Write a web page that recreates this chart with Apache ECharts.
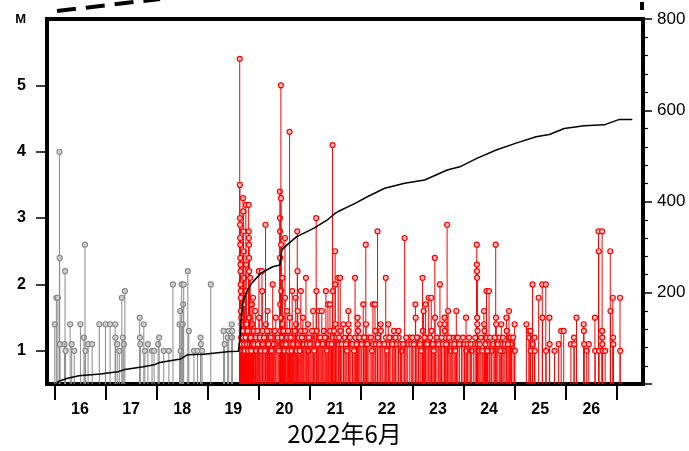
<!DOCTYPE html>
<html>
<head>
<meta charset="utf-8">
<script src="https://cdn.jsdelivr.net/npm/echarts@6/dist/echarts.min.js"></script>
<style>
html,body{margin:0;padding:0;background:#fff;}
#chart{width:689px;height:451px;}
</style>
</head>
<body>
<div id="chart"></div>
<script>
// ---- data ----
const dayTicks = [16,17,18,19,20,21,22,23,24,25,26,27];
const dayLabelPos = [16.5,17.5,18.5,19.5,20.5,21.5,22.5,23.5,24.5,25.5,26.5];
const magTicks = [1,2,3,4,5];
const magLabelPos = [1,2,3,4,5,6];
const axisTitle = '2022年6月';

// events before the main shock (gray): [day, magnitude]
const grayQuakes = [
 [16.01,1.4],[16.04,1.8],[16.07,1.8],[16.10,4.0],[16.105,2.4],[16.11,1.1],[16.20,1.1],[16.21,2.2],[16.22,1.0],
 [16.31,1.4],[16.34,1.1],[16.39,1.0],[16.51,1.4],[16.58,1.2],[16.60,2.6],[16.61,1.0],[16.66,1.1],[16.74,1.1],
 [16.88,1.4],[17.00,1.4],[17.09,1.4],[17.19,1.4],[17.195,1.2],[17.23,1.1],[17.27,1.0],[17.32,1.8],[17.34,1.2],
 [17.36,1.1],[17.38,1.9],[17.67,1.5],[17.675,1.2],[17.68,1.1],[17.75,1.4],[17.77,1.0],[17.83,1.1],[17.91,1.0],
 [17.95,1.0],[18.03,1.1],[18.05,1.2],[18.14,1.0],[18.24,1.0],[18.32,2.0],[18.45,1.4],[18.46,1.6],[18.47,1.0],
 [18.49,2.0],[18.51,1.4],[18.52,1.7],[18.53,2.0],[18.61,2.2],[18.63,1.3],[18.73,1.0],[18.80,1.0],[18.86,1.2],
 [18.865,1.1],[18.89,1.0],[19.06,2.0],[19.31,1.3],[19.33,1.1],[19.39,1.2],[19.41,1.3],[19.47,1.4],[19.475,1.2],[19.48,1.3]
];

// events from the main shock on (red): [day, magnitude]
const redQuakes = [
 [19.625,5.4],[19.628,3.5],[19.63,3.0],[19.632,2.9],[19.634,2.7],[19.636,2.6],[19.638,2.4],[19.64,2.3],[19.642,2.2],
 [19.644,2.0],[19.646,1.9],[19.648,1.8],[19.65,1.6],[19.655,1.5],[19.66,1.4],[19.665,1.3],[19.67,1.2],[19.675,1.1],
 [19.68,1.0],[19.69,3.3],[19.695,3.1],[19.70,2.8],[19.705,2.5],[19.71,2.1],[19.715,1.7],[19.72,1.3],[19.73,1.2],
 [19.735,1.1],[19.745,3.2],[19.75,2.3],[19.755,1.9],[19.76,1.4],[19.765,1.0],
 [19.80,3.2],[19.802,2.8],[19.804,2.7],[19.806,2.6],[19.808,2.4],[19.81,2.2],[19.815,1.5],[19.82,1.2],
 [19.83,2.1],[19.835,1.3],[19.865,1.7],[19.87,1.1],[19.875,1.4],[19.885,1.8],[19.89,1.0],[19.93,1.6],[19.935,1.2],
 [20.00,2.2],[20.005,1.5],[20.01,1.1],[20.06,2.2],[20.065,1.9],[20.07,1.3],[20.13,2.9],[20.135,1.4],[20.14,1.1],
 [20.17,1.6],[20.175,1.2],[20.21,1.3],[20.215,1.0],[20.27,2.0],[20.275,1.2],[20.33,1.5],[20.335,1.1],
 [20.41,3.4],[20.412,3.0],[20.414,2.8],[20.416,2.4],[20.418,1.7],[20.42,1.3],
 [20.43,5.0],[20.432,3.3],[20.434,2.6],[20.436,1.9],[20.438,1.5],[20.44,1.2],
 [20.46,2.1],[20.465,1.4],[20.47,1.1],[20.51,2.7],[20.512,1.8],[20.515,1.3],[20.55,1.6],[20.555,1.2],
 [20.60,4.3],[20.605,1.5],[20.61,1.1],[20.65,1.9],[20.655,1.3],[20.68,1.2],[20.72,1.8],[20.725,1.4],
 [20.75,2.8],[20.755,2.2],[20.76,1.6],[20.765,1.1],[20.82,1.9],[20.825,1.3],[20.86,1.5],[20.865,1.1],
 [20.92,2.1],[20.925,1.2],[20.96,1.4],[20.965,1.0],[21.02,1.2],[21.06,1.6],[21.065,1.1],[21.09,1.3],
 [21.12,3.0],[21.125,1.9],[21.13,1.3],[21.17,1.6],[21.175,1.2],[21.23,1.6],[21.235,1.1],[21.27,1.3],
 [21.31,1.9],[21.315,1.2],[21.35,1.7],[21.355,1.1],[21.39,1.7],[21.395,1.3],[21.44,4.1],[21.445,1.9],[21.45,1.2],
 [21.49,2.5],[21.492,2.0],[21.495,1.4],[21.55,2.1],[21.555,1.1],[21.59,2.1],[21.595,1.3],[21.65,1.4],[21.655,1.1],
 [21.68,1.2],[21.75,1.6],[21.752,1.4],[21.755,1.3],[21.76,1.2],[21.80,1.1],[21.88,2.1],[21.885,1.2],
 [21.93,1.5],[21.935,1.4],[21.94,1.3],[21.98,1.1],[22.04,1.7],[22.045,1.2],[22.09,2.6],[22.095,1.4],[22.10,1.1],
 [22.15,1.2],[22.23,1.7],[22.235,1.1],[22.27,1.7],[22.275,1.3],[22.32,2.8],[22.325,1.2],[22.38,1.4],[22.385,1.3],
 [22.42,1.1],[22.48,2.1],[22.485,1.2],[22.53,1.4],[22.535,1.1],[22.58,1.2],[22.64,1.3],[22.645,1.1],
 [22.73,1.3],[22.735,1.2],[22.79,1.0],[22.85,2.7],[22.855,1.1],[22.91,1.1],[22.95,1.2],[23.00,1.2],
 [23.06,1.7],[23.065,1.5],[23.07,1.1],[23.12,1.2],[23.20,2.1],[23.205,1.3],[23.22,1.6],[23.26,1.7],[23.265,1.2],
 [23.32,1.8],[23.325,1.1],[23.37,1.8],[23.375,1.3],[23.44,2.4],[23.445,1.5],[23.45,1.1],[23.48,1.2],
 [23.54,2.0],[23.545,1.4],[23.63,1.5],[23.632,1.4],[23.635,1.3],[23.64,1.2],[23.68,2.9],[23.685,1.1],[23.70,1.6],
 [23.75,1.0],[23.79,1.2],[23.86,1.6],[23.865,1.2],[23.89,1.2],[23.96,1.1],[24.05,1.5],[24.055,1.0],[24.11,1.2],
 [24.16,1.0],[24.20,1.1],[24.26,2.6],[24.262,2.3],[24.264,2.2],[24.266,2.1],[24.268,1.5],[24.27,1.4],[24.275,1.3],
 [24.30,1.0],[24.34,1.2],[24.40,1.6],[24.405,1.4],[24.41,1.3],[24.45,1.9],[24.455,1.2],[24.50,1.9],[24.505,1.1],
 [24.55,1.0],[24.63,2.6],[24.635,1.5],[24.64,1.4],[24.70,1.2],[24.74,1.4],[24.745,1.1],[24.79,1.0],
 [24.84,1.5],[24.845,1.3],[24.89,1.6],[24.895,1.2],[24.94,1.1],[25.00,1.4],[25.005,1.0],
 [25.23,1.4],[25.28,1.3],[25.285,1.2],[25.31,1.3],[25.315,1.0],[25.35,2.0],[25.355,1.1],[25.39,1.2],[25.395,1.0],
 [25.47,1.8],[25.54,2.0],[25.545,1.5],[25.61,2.0],[25.615,1.0],[25.68,1.5],[25.685,1.1],[25.78,1.0],[25.86,1.1],
 [25.91,1.3],[25.96,1.3],[26.10,1.1],[26.16,1.2],[26.165,1.1],[26.21,1.5],[26.35,1.4],[26.355,1.3],[26.36,1.1],
 [26.41,1.0],[26.45,1.1],[26.57,1.5],[26.575,1.0],[26.64,2.8],[26.645,2.5],[26.65,1.0],
 [26.71,2.8],[26.712,1.3],[26.714,1.2],[26.716,1.1],[26.72,1.0],[26.77,1.0],[26.87,2.5],[26.875,1.6],
 [26.92,1.8],[26.925,1.2],[26.93,1.1],[27.06,1.8],[27.065,1.0],
 // smaller events filling the base
 [19.652,1.2],[19.662,1.1],[19.672,1.0],[19.682,1.3],[19.692,1.2],[19.70,1.0],[19.712,1.1],[19.722,1.0],[19.74,1.2],
 [19.77,1.1],[19.78,1.3],[19.79,1.0],[19.84,1.2],[19.85,1.0],[19.90,1.3],[19.91,1.1],[19.95,1.0],[19.97,1.3],
 [19.98,1.1],[20.02,1.2],[20.04,1.0],[20.08,1.1],[20.10,1.2],[20.12,1.0],[20.16,1.3],[20.19,1.1],[20.23,1.2],
 [20.25,1.0],[20.29,1.1],[20.31,1.3],[20.37,1.2],[20.39,1.0],[20.45,1.2],[20.48,1.3],[20.50,1.0],[20.53,1.1],
 [20.57,1.3],[20.58,1.0],[20.62,1.2],[20.64,1.0],[20.67,1.1],[20.70,1.3],[20.74,1.0],[20.78,1.2],[20.80,1.0],
 [20.84,1.2],[20.88,1.1],[20.90,1.3],[20.94,1.1],[20.98,1.2],[21.00,1.1],[21.04,1.3],[21.08,1.0],[21.15,1.1],
 [21.20,1.2],[21.25,1.1],[21.29,1.2],[21.33,1.0],[21.37,1.1],[21.42,1.1],[21.47,1.3],[21.52,1.2],[21.57,1.2],
 [21.62,1.1],[21.70,1.1],[21.72,1.0],[21.78,1.2],[21.83,1.1],[21.86,1.0],[21.91,1.1],[21.96,1.2],[22.01,1.1],
 [22.06,1.2],[22.12,1.1],[22.19,1.2],[22.21,1.0],[22.29,1.1],[22.35,1.1],[22.45,1.1],[22.50,1.0],[22.55,1.2],
 [22.61,1.1],[22.67,1.2],[22.70,1.1],[22.77,1.1],[22.82,1.1],[22.88,1.2],[22.98,1.1],[23.03,1.1],[23.09,1.2],
 [23.15,1.1],[23.17,1.0],[23.24,1.2],[23.29,1.1],[23.35,1.2],[23.40,1.1],[23.42,1.0],[23.51,1.1],[23.57,1.2],
 [23.60,1.1],[23.66,1.1],[23.72,1.2],[23.77,1.1],[23.82,1.1],[23.84,1.0],[23.92,1.1],[23.99,1.2],[24.02,1.1],
 [24.08,1.1],[24.14,1.1],[24.23,1.2],[24.28,1.1],[24.32,1.1],[24.37,1.0],[24.43,1.1],[24.47,1.0],[24.52,1.2],
 [24.58,1.1],[24.61,1.2],[24.67,1.1],[24.72,1.0],[24.77,1.2],[24.81,1.1],[24.87,1.1],[24.92,1.2],[24.97,1.2]
];

// cumulative number of events: [day, count]
const cumulativeCount = [
 [16.05,0],[16.07,5],[16.24,12],[16.48,18],[16.90,22],[17.12,25],[17.25,27],[17.38,32],[17.74,38],[17.95,42],
 [18.06,47],[18.47,55],[18.60,64],[18.92,65],[19.43,71],[19.60,72],[19.615,74],[19.64,110],[19.655,147],
 [19.69,180],[19.76,202],[19.86,221],[20.04,243],[20.27,257],[20.41,261],[20.45,294],[20.55,305],[20.74,323],
 [21.07,341],[21.33,359],[21.49,374],[21.55,378],[21.88,396],[22.13,411],[22.46,429],[22.85,440],[23.24,447],
 [23.54,462],[23.68,469],[23.93,476],[24.25,494],[24.64,513],[25.03,528],[25.42,542],[25.68,547],[25.97,560],
 [26.36,566],[26.75,568],[27.05,580],[27.30,580]
];

// ---- chart ----
const FONT = '"Liberation Sans", Arial, sans-serif';
function stem(color, fill) {
  return function (params, api) {
    const t = api.value(0), m = api.value(1);
    const top = api.coord([t, m]);
    const base = api.coord([t, 0.5]);
    return {
      type: 'group',
      children: [
        {type: 'line', shape: {x1: top[0], y1: base[1], x2: top[0], y2: top[1]},
         style: {stroke: color, lineWidth: 1}},
        {type: 'circle', shape: {cx: top[0], cy: top[1], r: 2.5},
         style: {stroke: color, fill: fill, lineWidth: 1.2}}
      ]
    };
  };
}

const chart = echarts.init(document.getElementById('chart'), null, {renderer: 'canvas'});
chart.setOption({
  animation: false,
  backgroundColor: '#fff',
  grid: {left: 47, right: 46, top: 19, bottom: 67, show: true,
         borderColor: '#000', borderWidth: 4, backgroundColor: 'transparent', containLabel: false},
  xAxis: {
    type: 'value', min: 15.857, max: 27.51,
    splitLine: {show: false},
    axisLine: {show: false},
    axisTick: {show: true, customValues: dayTicks, length: 16, inside: false,
               lineStyle: {color: '#000', width: 2}},
    axisLabel: {customValues: dayLabelPos, formatter: v => String(Math.floor(v)),
                color: '#000', fontSize: 16, fontWeight: 'bold', fontFamily: FONT, margin: 18}
  },
  yAxis: [
    {
      type: 'value', min: 0.5, max: 6, position: 'left',
      splitLine: {show: false},
      axisLine: {show: false},
      axisTick: {show: true, customValues: magTicks, length: 11, lineStyle: {color: '#000', width: 1.5}},
      axisLabel: {customValues: magLabelPos,
                  formatter: v => (v === 6 ? '{m|M}' : String(v)),
                  rich: {m: {fontSize: 13, fontWeight: 'bold', color: '#000', fontFamily: FONT}},
                  color: '#000', fontSize: 16, fontWeight: 'bold', fontFamily: FONT, margin: 21}
    },
    {
      type: 'value', min: 0, max: 800, interval: 200, position: 'right',
      splitLine: {show: false},
      axisLine: {show: false},
      axisTick: {show: true, length: 9, lineStyle: {color: '#000', width: 1.5}},
      minorTick: {show: true, splitNumber: 5, length: 5, lineStyle: {color: '#000', width: 1.2}},
      minorSplitLine: {show: false},
      axisLabel: {formatter: v => (v === 0 ? '' : String(v)),
                  color: '#000', fontSize: 17, fontFamily: FONT, margin: 14}
    }
  ],
  series: [
    {type: 'custom', name: 'before', xAxisIndex: 0, yAxisIndex: 0, data: grayQuakes,
     renderItem: stem('#8a8a8a', '#d2d2d2'), z: 2},
    {type: 'custom', name: 'after', xAxisIndex: 0, yAxisIndex: 0, data: redQuakes,
     renderItem: stem('#ff0000', '#ffc0c0'), z: 3},
    {type: 'line', name: 'cumulative', xAxisIndex: 0, yAxisIndex: 1, data: cumulativeCount,
     showSymbol: false, symbol: 'none', lineStyle: {color: '#000', width: 1.5}, z: 5}
  ],
  graphic: [
    {type: 'text', left: 'center', top: 422, z: 10,
     style: {text: axisTitle, fontSize: 24, fill: '#000', fontFamily: '"Noto Sans CJK JP", sans-serif',
             x: 0, y: 0}},
    {type: 'line', shape: {x1: 57, y1: 11, x2: 160, y2: -1},
     style: {stroke: '#000', lineWidth: 4, lineDash: [19, 10]}},
    {type: 'rect', shape: {x: 640, y: 2, width: 4, height: 8}, style: {fill: '#000'}}
  ]
});
</script>
</body>
</html>
